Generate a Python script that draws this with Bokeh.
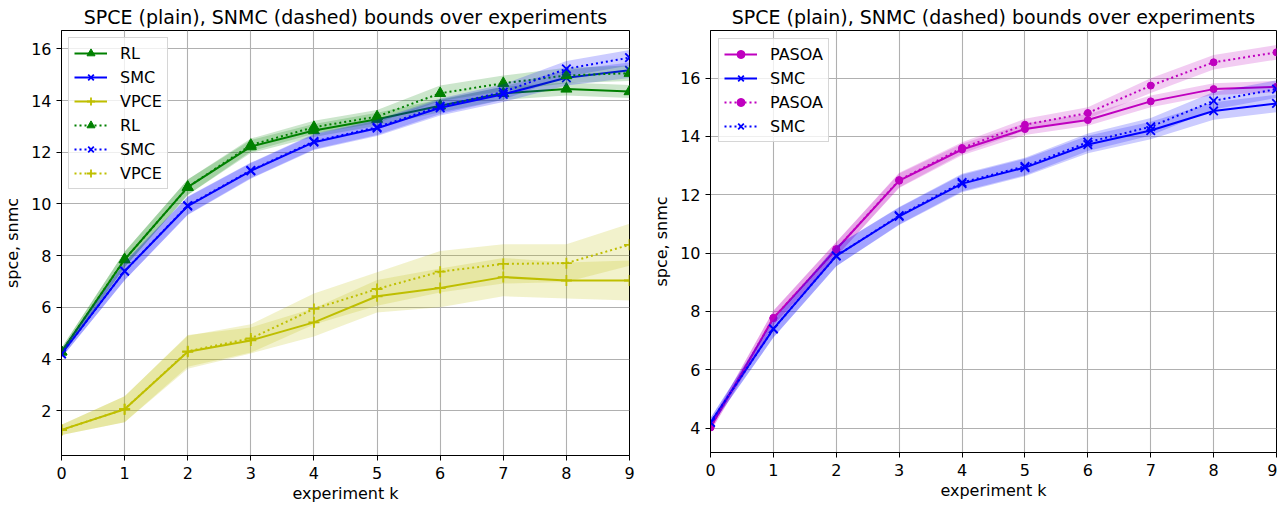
from bokeh.plotting import figure
from bokeh.models import Legend, LegendItem, Range1d, FixedTicker
from bokeh.layouts import row
from bokeh.embed import file_html
from bokeh.resources import INLINE

# ---------------- data ----------------
k = [0, 1, 2, 3, 4, 5, 6, 7, 8, 9]

# left panel
rl_spce = [4.28, 7.85, 10.65, 12.22, 12.84, 13.28, 13.80, 14.28, 14.45, 14.35]
rl_spce_sd = [0.15, 0.3, 0.3, 0.25, 0.25, 0.25, 0.25, 0.25, 0.25, 0.25]
rl_snmc = [4.28, 7.85, 10.65, 12.28, 12.97, 13.38, 14.28, 14.67, 14.97, 15.06]
rl_snmc_sd = [0.15, 0.3, 0.3, 0.25, 0.25, 0.25, 0.3, 0.3, 0.3, 0.3]

smc_spce = [4.2, 7.4, 9.92, 11.28, 12.39, 12.93, 13.72, 14.24, 14.88, 15.17]
smc_spce_sd = [0.15, 0.35, 0.35, 0.3, 0.3, 0.3, 0.3, 0.3, 0.3, 0.3]
smc_snmc = [4.2, 7.4, 9.94, 11.3, 12.42, 12.97, 13.78, 14.33, 15.23, 15.66]
smc_snmc_sd = [0.15, 0.35, 0.35, 0.3, 0.3, 0.3, 0.3, 0.3, 0.3, 0.3]

vpce_spce = [1.26, 2.06, 4.28, 4.72, 5.42, 6.43, 6.75, 7.17, 7.04, 7.04]
vpce_spce_sd = [0.2, 0.5, 0.65, 0.5, 0.55, 0.63, 0.75, 0.74, 0.7, 0.77]
vpce_snmc = [1.26, 2.06, 4.3, 4.8, 5.94, 6.71, 7.38, 7.68, 7.71, 8.42]
vpce_snmc_sd = [0.2, 0.5, 0.6, 0.55, 0.6, 0.65, 0.8, 0.76, 0.73, 0.81]

# right panel
pasoa_spce = [4.02, 7.77, 10.13, 12.48, 13.55, 14.25, 14.56, 15.2, 15.62, 15.7]
pasoa_spce_sd = [0.15, 0.25, 0.25, 0.25, 0.2, 0.2, 0.2, 0.2, 0.2, 0.2]
pasoa_snmc = [4.02, 7.77, 10.13, 12.5, 13.6, 14.4, 14.8, 15.74, 16.54, 16.88]
pasoa_snmc_sd = [0.15, 0.25, 0.25, 0.25, 0.2, 0.2, 0.2, 0.25, 0.25, 0.25]

smc2_spce = [4.19, 7.4, 9.9, 11.26, 12.38, 12.93, 13.72, 14.2, 14.87, 15.13]
smc2_spce_sd = [0.15, 0.3, 0.35, 0.3, 0.3, 0.3, 0.3, 0.3, 0.3, 0.3]
smc2_snmc = [4.19, 7.4, 9.9, 11.28, 12.42, 12.97, 13.8, 14.33, 15.22, 15.62]
smc2_snmc_sd = [0.15, 0.3, 0.35, 0.3, 0.3, 0.3, 0.3, 0.3, 0.3, 0.3]

title_text = "SPCE (plain), SNMC (dashed) bounds over experiments"
x_label = "experiment k"
y_label = "spce, snmc"
x_ticks = [0, 1, 2, 3, 4, 5, 6, 7, 8, 9]
left_y_ticks = [2, 4, 6, 8, 10, 12, 14, 16]
right_y_ticks = [4, 6, 8, 10, 12, 14, 16]

GREEN = "#008000"
BLUE = "#0000ff"
YELLOW = "#bfbf00"
MAGENTA = "#bf00bf"
FONT = "DejaVu Sans"
DOT = "2 3"


def style(p, yticks):
    p.title.text_font = FONT
    p.title.text_font_size = "19px"
    p.title.text_font_style = "normal"
    p.title.text_color = "black"
    p.title.align = "center"
    p.title.standoff = 6
    p.outline_line_color = "black"
    p.outline_line_width = 1
    p.outline_line_alpha = 1
    for ax in (p.xaxis[0], p.yaxis[0]):
        ax.axis_line_color = "black"
        ax.major_tick_line_color = "black"
        ax.major_tick_in = 0
        ax.major_tick_out = 5
        ax.minor_tick_line_color = None
        ax.major_label_text_font = FONT
        ax.major_label_text_font_size = "16px"
        ax.major_label_text_color = "black"
        ax.axis_label_text_font = FONT
        ax.axis_label_text_font_size = "16px"
        ax.axis_label_text_font_style = "normal"
        ax.axis_label_text_color = "black"
    p.xaxis[0].major_label_standoff = 6
    p.yaxis[0].major_label_standoff = 5
    p.xaxis[0].axis_label = x_label
    p.yaxis[0].axis_label = y_label
    p.xaxis[0].axis_label_standoff = 2
    p.yaxis[0].axis_label_standoff = 6
    p.xaxis[0].ticker = FixedTicker(ticks=x_ticks)
    p.yaxis[0].ticker = FixedTicker(ticks=yticks)
    for g in (p.xgrid[0], p.ygrid[0]):
        g.grid_line_color = "#b0b0b0"
        g.grid_line_width = 1.1


def series(p, mean, sd, color, marker, dash, msize):
    lo = [m - s for m, s in zip(mean, sd)]
    hi = [m + s for m, s in zip(mean, sd)]
    p.varea(x=k, y1=lo, y2=hi, fill_color=color, fill_alpha=0.2)
    lr = p.line(k, mean, line_color=color, line_width=2, line_dash=dash)
    if marker == "dot":
        sr = p.scatter(k, mean, marker="circle", size=msize, fill_color=color,
                       line_color=color)
    elif marker in ("x", "cross"):
        sr = p.scatter(k, mean, marker=marker, size=msize, line_color=color,
                       line_width=1.8)
    else:
        sr = p.scatter(k, mean, marker=marker, size=msize, fill_color=color,
                       line_color=color)
    return [lr, sr]


def make_legend(p, items, margin):
    leg = Legend(items=items, location="top_left")
    leg.margin = margin
    leg.padding = 5
    leg.spacing = 4
    leg.glyph_width = 33
    leg.glyph_height = 20
    leg.label_height = 20
    leg.label_standoff = 13
    leg.label_text_font = FONT
    leg.label_text_font_size = "16px"
    leg.label_text_color = "black"
    leg.border_line_color = "#cccccc"
    leg.border_line_alpha = 0.8
    leg.background_fill_color = "white"
    leg.background_fill_alpha = 0.8
    p.add_layout(leg, "center")


# ---------------- left panel ----------------
p1 = figure(frame_width=568, frame_height=425, min_border_left=58,
            min_border_right=20, min_border_top=26, min_border_bottom=44,
            x_range=Range1d(0, 9), y_range=Range1d(0.27, 16.71),
            title=title_text, output_backend="svg", toolbar_location=None)
style(p1, left_y_ticks)
r_rl1 = series(p1, rl_spce, rl_spce_sd, GREEN, "triangle", "solid", 11)
r_smc1 = series(p1, smc_spce, smc_spce_sd, BLUE, "x", "solid", 12)
r_vp1 = series(p1, vpce_spce, vpce_spce_sd, YELLOW, "cross", "solid", 11)
r_rl2 = series(p1, rl_snmc, rl_snmc_sd, GREEN, "triangle", DOT, 11)
r_smc2 = series(p1, smc_snmc, smc_snmc_sd, BLUE, "x", DOT, 12)
r_vp2 = series(p1, vpce_snmc, vpce_snmc_sd, YELLOW, "cross", DOT, 11)
make_legend(p1, [
    LegendItem(label="RL", renderers=r_rl1),
    LegendItem(label="SMC", renderers=r_smc1),
    LegendItem(label="VPCE", renderers=r_vp1),
    LegendItem(label="RL", renderers=r_rl2),
    LegendItem(label="SMC", renderers=r_smc2),
    LegendItem(label="VPCE", renderers=r_vp2),
], 7)

# ---------------- right panel ----------------
p2 = figure(frame_width=566, frame_height=422, min_border_left=60,
            min_border_right=1, min_border_top=29, min_border_bottom=44,
            x_range=Range1d(0, 9), y_range=Range1d(3.16, 17.63),
            title=title_text, output_backend="svg", toolbar_location=None)
style(p2, right_y_ticks)
r_pa1 = series(p2, pasoa_spce, pasoa_spce_sd, MAGENTA, "dot", "solid", 7)
r_sm1 = series(p2, smc2_spce, smc2_spce_sd, BLUE, "x", "solid", 12)
r_pa2 = series(p2, pasoa_snmc, pasoa_snmc_sd, MAGENTA, "dot", DOT, 7)
r_sm2 = series(p2, smc2_snmc, smc2_snmc_sd, BLUE, "x", DOT, 12)
make_legend(p2, [
    LegendItem(label="PASOA", renderers=r_pa1),
    LegendItem(label="SMC", renderers=r_sm1),
    LegendItem(label="PASOA", renderers=r_pa2),
    LegendItem(label="SMC", renderers=r_sm2),
], 8)

layout = row(p1, p2)
open("out.html", "w").write(file_html(layout, INLINE))
